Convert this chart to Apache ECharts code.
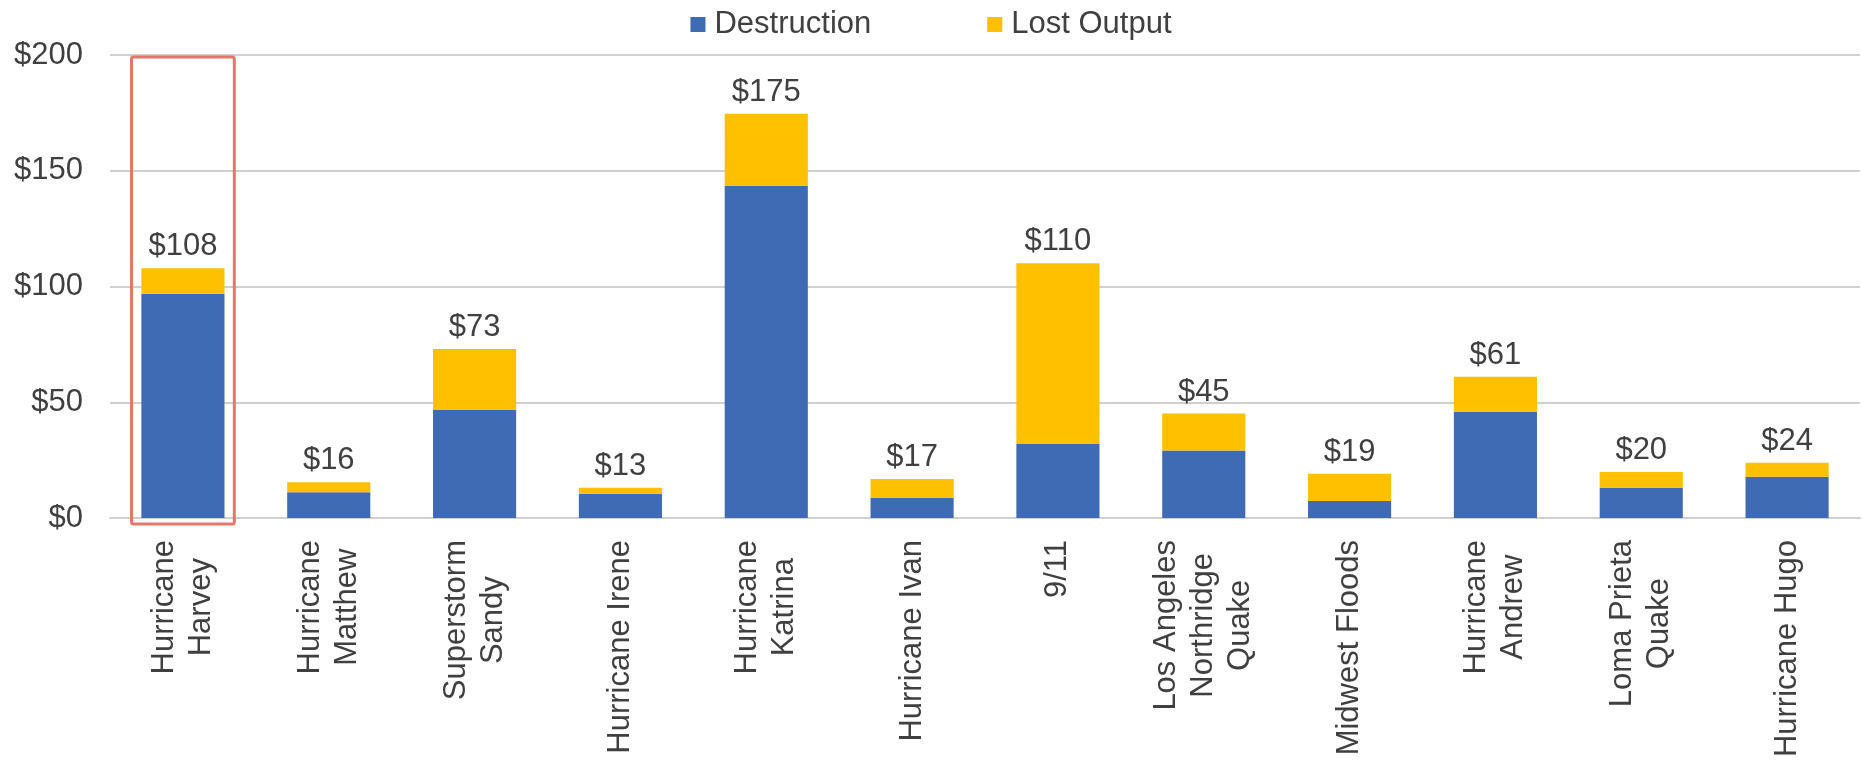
<!DOCTYPE html>
<html>
<head>
<meta charset="utf-8">
<script src="https://cdn.jsdelivr.net/npm/echarts@6/dist/echarts.min.js"></script>
<style>
html,body{margin:0;padding:0;background:#fff;}
#chart{width:1862px;height:762px;}
</style>
</head>
<body>
<div id="chart"></div>
<script>
const categories = [
  "Hurricane\nHarvey", "Hurricane\nMatthew", "Superstorm\nSandy", "Hurricane Irene",
  "Hurricane\nKatrina", "Hurricane Ivan", "9/11", "Los Angeles\nNorthridge\nQuake",
  "Midwest Floods", "Hurricane\nAndrew", "Loma Prieta\nQuake", "Hurricane Hugo"
];
const destruction = [96.9, 11.1, 46.7, 10.5, 143.5, 8.8, 32.0, 29.2, 7.3, 45.8, 13.1, 17.8];
const lostOutput  = [11.0, 4.3, 26.3, 2.6, 31.1, 8.0, 78.0, 15.9, 11.8, 15.2, 6.8, 6.1];
const totalLabels = [108, 16, 73, 13, 175, 17, 110, 45, 19, 61, 20, 24];
const yTicks = [0, 50, 100, 150, 200];
const highlight = [[0, 200]];

const FONT = '"Liberation Sans", Arial, sans-serif';
const TXT = '#404040';

const chart = echarts.init(document.getElementById('chart'));
chart.setOption({
  animation: false,
  legend: {
    top: 4,
    left: 'center',
    itemWidth: 15,
    itemHeight: 15,
    itemGap: 116,
    icon: 'rect',
    textStyle: {fontFamily: FONT, fontSize: 31, color: TXT, padding: [0, 0, 0, 4]},
    data: ['Destruction', 'Lost Output']
  },
  grid: {left: 110, right: 2, top: 55, bottom: 244, containLabel: false},
  xAxis: {
    type: 'category',
    data: categories,
    axisTick: {show: false},
    axisLine: {lineStyle: {color: '#d0d0d0', width: 2}},
    axisLabel: {
      rotate: 90,
      margin: 22,
      interval: 0,
      fontFamily: FONT,
      fontSize: 31,
      color: TXT,
      lineHeight: 37,
      formatter: function (v) {
        return v.split('\n').map(function (l) { return '{c|' + l + '}'; }).join('\n');
      },
      rich: {c: {align: 'center', fontFamily: FONT, fontSize: 31, color: TXT, lineHeight: 37}}
    }
  },
  yAxis: {
    type: 'value',
    min: yTicks[0],
    max: yTicks[yTicks.length - 1],
    interval: yTicks[1] - yTicks[0],
    axisLine: {show: false},
    axisTick: {show: false},
    splitLine: {lineStyle: {color: '#d0d0d0', width: 2}},
    axisLabel: {
      margin: 27,
      fontFamily: FONT,
      fontSize: 31,
      color: TXT,
      formatter: function (v) { return '$' + v; }
    }
  },
  series: [
    {
      name: 'Destruction',
      type: 'bar',
      stack: 'total',
      barCategoryGap: '43%',
      itemStyle: {color: '#3E6BB4'},
      data: destruction
    },
    {
      name: 'Lost Output',
      type: 'bar',
      stack: 'total',
      barCategoryGap: '43%',
      itemStyle: {color: '#FFC000'},
      label: {
        show: true,
        position: 'top',
        distance: 6,
        fontFamily: FONT,
        fontSize: 31,
        color: TXT,
        formatter: function (p) { return '$' + totalLabels[p.dataIndex]; }
      },
      data: lostOutput
    },
    {
      name: 'highlight',
      type: 'custom',
      silent: true,
      z: 5,
      data: highlight,
      renderItem: function (params, api) {
        const top = api.coord([api.value(0), api.value(1)]);
        const bottom = api.coord([api.value(0), 0]);
        const band = api.size([1, 0])[0];
        const w = band * 0.705;
        return {
          type: 'rect',
          shape: {x: top[0] - w / 2, y: top[1] + 2, width: w, height: bottom[1] - top[1] + 4, r: 2},
          style: {fill: 'none', stroke: '#E8756A', lineWidth: 3}
        };
      }
    }
  ]
});
</script>
</body>
</html>
